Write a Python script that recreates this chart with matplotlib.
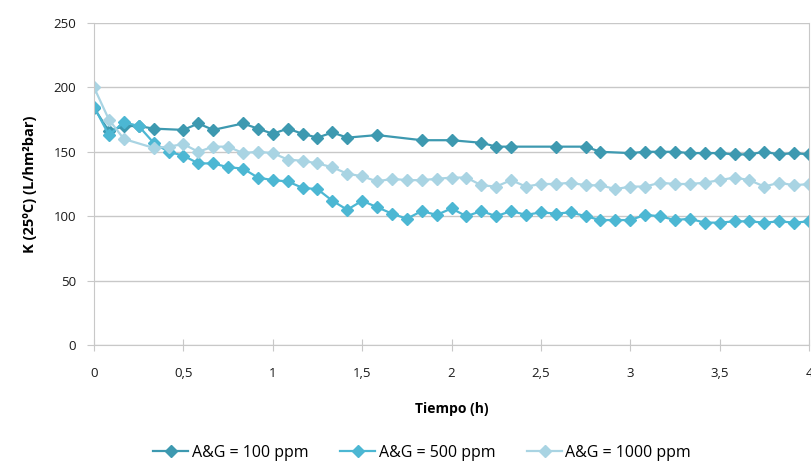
import matplotlib
matplotlib.use("Agg")
import matplotlib.pyplot as plt
from matplotlib.ticker import FuncFormatter

plt.rcParams['font.family'] = ['Open Sans', 'DejaVu Sans']

# Tiempo en horas (cada 5 min, con huecos en la serie de 100 ppm)
t_100 = [0, 1/12, 2/12, 3/12, 4/12, 6/12, 7/12, 8/12, 10/12, 11/12, 1.0, 13/12, 14/12, 15/12,
         16/12, 17/12, 19/12, 22/12, 2.0, 26/12, 27/12, 28/12, 31/12, 33/12, 34/12, 3.0,
         37/12, 38/12, 39/12, 40/12, 41/12, 42/12, 43/12, 44/12, 45/12, 46/12, 47/12, 4.0]
k_100 = [184, 166, 170, 170, 168, 167, 172, 167, 172, 168, 164, 168, 164, 161,
         165, 161, 163, 159, 159, 157, 154, 154, 154, 154, 150, 149,
         150, 150, 150, 149, 149, 149, 148, 148, 150, 148, 149, 148]

t_500 = [i / 12 for i in range(49)]
k_500 = [185, 163, 173, 170, 157, 150, 147, 141, 141, 138, 137, 130, 128, 127, 122, 121,
         112, 105, 112, 107, 102, 98, 104, 101, 106, 100, 104, 100, 104, 101, 103, 102,
         103, 100, 97, 97, 97, 101, 100, 97, 98, 95, 95, 96, 96, 95, 96, 95, 96]

t_1000 = [0, 1/12, 2/12] + [i / 12 for i in range(4, 49)]
k_1000 = [200, 175, 160, 153, 154, 156, 150, 154, 154, 149, 150, 149, 144, 143, 141,
          138, 133, 131, 127, 129, 128, 128, 129, 130, 130, 124, 123, 128, 123, 125, 125,
          126, 124, 124, 121, 123, 123, 126, 125, 125, 126, 128, 130, 128, 123, 126, 124, 125]

labels = ['A&G = 100 ppm', 'A&G = 500 ppm', 'A&G = 1000 ppm']
colors = ['#3d99b0', '#4cb7d3', '#a9d4e3']

fig = plt.figure(figsize=(8.12, 4.66), dpi=100)
ax = fig.add_axes([0.1158, 0.2597, 0.8805, 0.6909])

for t, k, lab, c in zip([t_100, t_500, t_1000], [k_100, k_500, k_1000], labels, colors):
    ax.plot(t, k, color=c, marker='D', markersize=6, linewidth=1.6, label=lab)

ax.set_xlim(0, 4)
ax.set_ylim(0, 250)
ax.set_xticks([0, 0.5, 1, 1.5, 2, 2.5, 3, 3.5, 4])
ax.set_yticks([0, 50, 100, 150, 200, 250])
ax.xaxis.set_major_formatter(FuncFormatter(lambda v, p: ('%g' % v).replace('.', ',')))
ax.yaxis.grid(True, color='#c8c8c8', linewidth=1)
ax.set_axisbelow(True)

ax.spines['top'].set_visible(False)
for s in ['left', 'bottom', 'right']:
    ax.spines[s].set_color('#c8c8c8')
ax.tick_params(axis='both', colors='#c8c8c8', labelcolor='#1a1a1a', labelsize=9.5, length=5)
ax.tick_params(axis='y', pad=8)
ax.tick_params(axis='x', direction='inout', length=8, pad=12)

ax.set_xlabel('Tiempo (h)', fontsize=10, fontweight='bold', labelpad=16)
ax.set_ylabel('K (25ºC) (L/hm²bar)', fontsize=10.5, fontweight='bold', labelpad=12)

fig.legend(loc='lower center', bbox_to_anchor=(0.52, -0.02), ncol=3, frameon=False,
           fontsize=11.5, handlelength=2.2, handletextpad=0.2, columnspacing=2.0)

fig.savefig('out.png', dpi=100)
